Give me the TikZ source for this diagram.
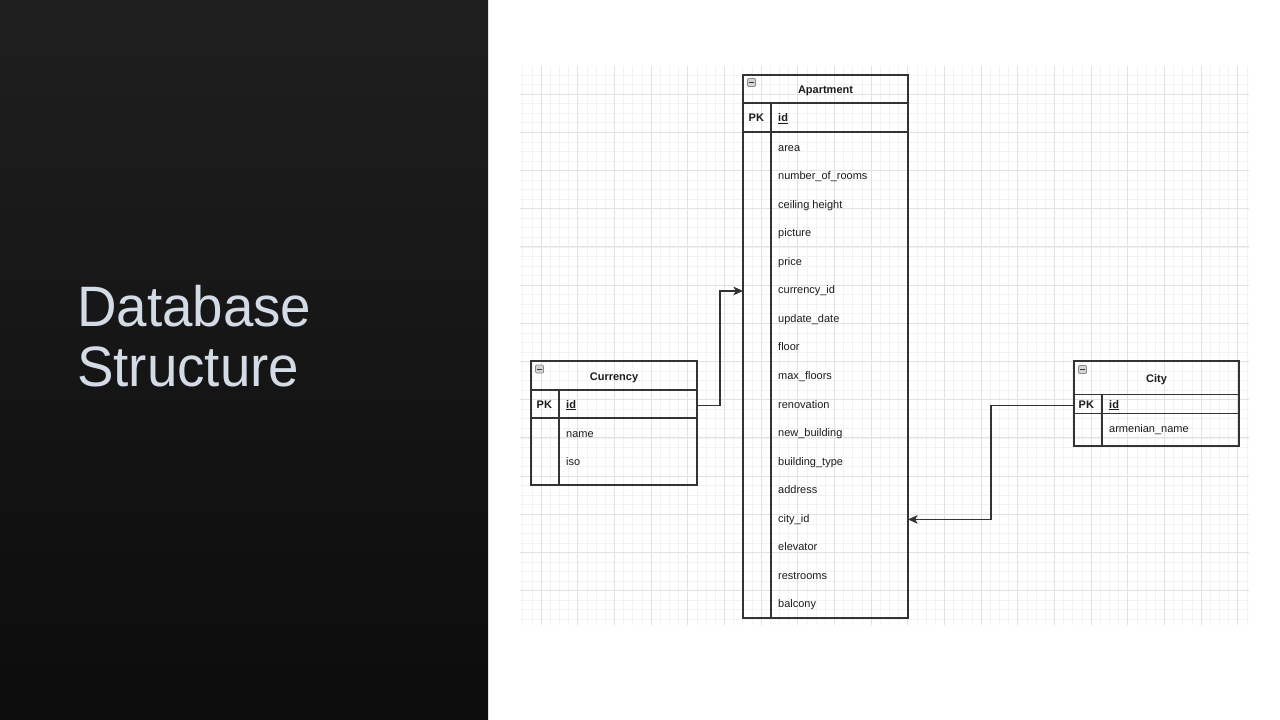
\documentclass[tikz,border=0pt]{standalone}
\usepackage{fontspec}
\setmainfont{Liberation Sans}
\usetikzlibrary{arrows.meta}
\definecolor{ink}{HTML}{333333}
\definecolor{txt}{HTML}{1C1C1C}
\definecolor{gridmajor}{HTML}{E2E2E2}
\definecolor{gridminor}{HTML}{F2F2F2}
\definecolor{titlecol}{HTML}{D3DBE6}
\definecolor{darktop}{HTML}{1F1F1F}
\definecolor{darkbot}{HTML}{0C0C0C}
\definecolor{iconfill}{HTML}{D4D4D4}
\definecolor{iconline}{HTML}{8A8A8A}
\tikzset{
  tbl/.style={draw=ink, line width=1.1pt, inner sep=0pt, outer sep=0pt, anchor=north west},
  tline/.style={draw=ink, line width=1.1pt},
  field/.style={anchor=base west, inner sep=0pt, text=txt, font=\fontsize{11}{13}\selectfont},
  keyf/.style={anchor=base west, inner sep=0pt, text=txt, font=\bfseries\fontsize{11}{13}\selectfont},
  hdr/.style={anchor=base, inner sep=0pt, text=txt, font=\bfseries\fontsize{11}{13}\selectfont},
  conn/.style={draw=ink, line width=1.1pt, -{Stealth[length=9.5pt,width=8.5pt,inset=2.2pt]}},
  minorline/.style={draw=gridminor, line width=0.5pt},
  majorline/.style={draw=gridmajor, line width=0.8pt},
  titlef/.style={anchor=base west, inner sep=0pt, text=titlecol, font=\fontsize{57}{60}\selectfont}
}
\newcommand{\collapseicon}[2]{%
  \draw[draw=iconline, fill=iconfill, line width=0.7pt, rounded corners=1pt] (#1,#2) rectangle ++(8,8);
  \draw[draw=ink, line width=0.9pt] ({#1+1.8},{#2+4}) -- ++(4.4,0);}
\begin{document}
\begin{tikzpicture}[x=1pt,y=-1pt]
\useasboundingbox (0,0) rectangle (1280,720);
\fill[white] (0,0) rectangle (1280,720);
\shade[top color=darktop, bottom color=darkbot] (0,0) rectangle (488,720);

% title
\node[titlef] (title1) at (77,326) {\scalebox{0.96}[1]{Database}};
\node[titlef] (title2) at (77,386) {\scalebox{0.96}[1]{Structure}};

% grid
\begin{scope}
\clip (520,66) rectangle (1249,625);
\foreach \i in {-3,...,80} \draw[minorline] ({541+9.1667*\i},66) -- ++(0,559);
\foreach \i in {-3,...,60} \draw[minorline] (520,{94+9.55*\i}) -- ++(729,0);
\foreach \i in {-1,...,20} \draw[majorline] ({541+36.667*\i},66) -- ++(0,559);
\foreach \i in {-1,...,15} \draw[majorline] (520,{94+38.2*\i}) -- ++(729,0);
\end{scope}

% ---------- Apartment ----------
\node[tbl, minimum width=165pt, minimum height=543pt] (apt) at (743,75) {};
\draw[tline] (743,103) -- (908,103);
\draw[tline] (743,132) -- (908,132);
\draw[tline] (771,103) -- (771,618);
\collapseicon{747.5}{78.5}
\node[hdr] (apt-title) at (825.5,93.5) {Apartment};
\node[keyf] (apt-pk) at (748.5,121.5) {PK};
\node[keyf] (apt-id) at (778,121.5) {\underline{id}};
\foreach \n/\t [count=\k from 0] in {area/area, rooms/number\_of\_rooms, ceil/ceiling height,
  pic/picture, price/price, currency/currency\_id, upd/update\_date, floor/floor,
  maxf/max\_floors, ren/renovation, newb/new\_building, btype/building\_type,
  addr/address, cityid/city\_id, elev/elevator, rest/restrooms, balc/balcony}
  \node[field] (apt-\n) at (778,{151+28.56*\k}) {\t};

% ---------- Currency ----------
\node[tbl, minimum width=166pt, minimum height=124pt] (currency) at (531,361) {};
\draw[tline] (531,390) -- (697,390);
\draw[tline] (531,418) -- (697,418);
\draw[tline] (559,390) -- (559,485);
\collapseicon{535.5}{365}
\node[hdr] (cur-title) at (614,380) {Currency};
\node[keyf] (cur-pk) at (536.5,408) {PK};
\node[keyf] (cur-id) at (566,408) {\underline{id}};
\node[field] (cur-name) at (566,437) {name};
\node[field] (cur-iso) at (566,465.5) {iso};

% ---------- City ----------
\node[tbl, minimum width=165pt, minimum height=85pt] (city) at (1074,361) {};
\draw[tline] (1074,394.5) -- (1239,394.5);
\draw[tline] (1074,413.5) -- (1239,413.5);
\draw[tline] (1102,394.5) -- (1102,446);
\collapseicon{1078.5}{365.5}
\node[hdr] (city-title) at (1156.5,382.5) {City};
\node[keyf] (city-pk) at (1078.5,408) {PK};
\node[keyf] (city-id) at (1109,408) {\underline{id}};
\node[field] (city-name) at (1109,432.5) {armenian\_name};

% ---------- connectors ----------
\draw[conn] (currency.east |- cur-id) -- ++(23,0) |- (apt.west |- apt-currency);
\draw[conn] (city.west |- city-id) -- ++(-83,0) |- (apt.east |- apt-cityid);
\end{tikzpicture}
\end{document}
